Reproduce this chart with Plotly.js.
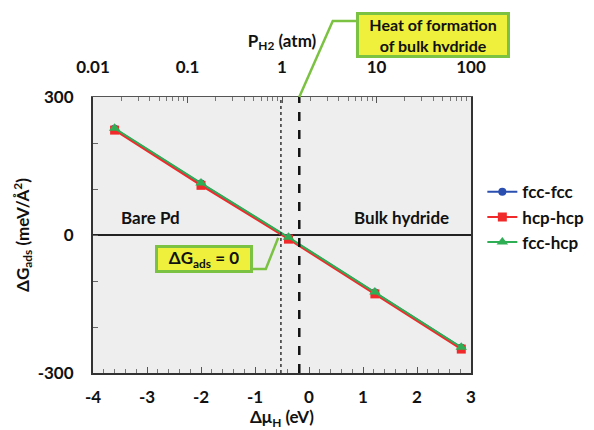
<!DOCTYPE html>
<html>
<head>
<meta charset="utf-8">
<script src="https://cdn.plot.ly/plotly-3.0.1.min.js"></script>
<style>html,body{margin:0;padding:0;background:#fff;} #chart{width:594px;height:430px;}</style>
</head>
<body>
<div id="chart"></div>
<script>
// ---- data ----
const seriesNames = ["fcc-fcc", "hcp-hcp", "fcc-hcp"];
const dMuH = [-3.6, -2.0, -0.38, 1.22, 2.82];
const fccFcc = [231, 112, -6, -125, -245];
const hcpHcp = [228, 108, -9, -128, -248];
const fccHcp = [232, 113, -5, -124, -244];
const xTickVals = [-4, -3, -2, -1, 0, 1, 2, 3];
const xTickText = ["-4", "-3", "-2", "-1", "0", "1", "2", "3"];
const yTickVals = [-300, -200, -100, 0, 100, 200, 300];
const yTickText = ["-300", "", "", "0", "", "", "300"];
const pTickVals = [0.01, 0.1, 1, 10, 100];
const pTickText = ["0.01", "0.1", "1", "10", "100"];
const heatFormationX = -0.18;   // dashed line
const zeroCrossX = -0.52;       // dotted line (ΔG_ads = 0)

// minor tick positions of the log pressure axis (2..9 in each decade)
const pMinorTicks = [];
pTickVals.slice(0, -1).forEach(d => { for (let k = 2; k <= 9; k++) pMinorTicks.push(d * k); });

const FONT = "Lato, 'Open Sans', sans-serif";
const colors = ["#2a4fb0", "#f02a2a", "#2fae55"];
const symbols = ["circle", "square", "triangle-up"];
const sizes = [8, 9, 10];
const ys = [fccFcc, hcpHcp, fccHcp];

const traces = seriesNames.map((n, i) => ({
  type: "scatter", mode: "lines+markers", name: n,
  x: dMuH, y: ys[i],
  line: {color: colors[i], width: 2},
  marker: {color: colors[i], symbol: symbols[i], size: sizes[i]},
  xaxis: "x", yaxis: "y"
}));
// empty trace so that the top pressure axis is drawn
traces.push({
  type: "scatter", mode: "markers", x: pTickVals, y: pTickVals.map(() => null),
  xaxis: "x2", yaxis: "y", showlegend: false, hoverinfo: "skip",
  marker: {opacity: 0}
});

const tickFont = {family: FONT, size: 17, color: "#111", weight: "bold"};
const titleFont = {family: FONT, size: 17, color: "#111", weight: "bold"};

const layout = {
  width: 594, height: 430,
  margin: {l: 93, r: 123, t: 97, b: 57, autoexpand: false},
  paper_bgcolor: "#fff",
  plot_bgcolor: "#eeeeee",
  font: {family: FONT, color: "#111"},
  showlegend: true,
  legend: {
    x: 1.03, xanchor: "left", y: 0.72, yanchor: "top",
    font: {family: FONT, size: 17, color: "#111", weight: "bold"},
    itemwidth: 30, tracegroupgap: 0, bgcolor: "rgba(0,0,0,0)"
  },
  xaxis: {
    range: [-4, 3], tickmode: "array", tickvals: xTickVals, ticktext: xTickText,
    ticks: "inside", ticklen: 6, tickcolor: "#555", tickwidth: 1,
    minor: {dtick: 0.2, ticks: "inside", ticklen: 4, tickcolor: "#777"},
    showgrid: false, zeroline: false,
    showline: true, linecolor: "#333", linewidth: 2, mirror: false,
    tickfont: tickFont, ticklabelstandoff: 8
  },
  xaxis2: {
    type: "log", overlaying: "x", side: "top", anchor: "y",
    range: [-2, 2], tickmode: "array", tickvals: pTickVals, ticktext: pTickText,
    ticks: "inside", ticklen: 6, tickcolor: "#555",
    minor: {tickmode: "array", tickvals: pMinorTicks, ticks: "inside", ticklen: 4, tickcolor: "#777"},
    showgrid: false, zeroline: false,
    showline: true, linecolor: "#555", linewidth: 1.5,
    tickfont: tickFont, ticklabelstandoff: 16,
    title: {text: "P<sub>H2</sub> (atm)", font: titleFont, standoff: 4}
  },
  yaxis: {
    range: [-300, 300], tickmode: "array", tickvals: yTickVals, ticktext: yTickText,
    ticks: "inside", ticklen: 5, tickcolor: "#666",
    showgrid: false, zeroline: true, zerolinecolor: "#222", zerolinewidth: 1.2,
    showline: true, linecolor: "#333", linewidth: 2, mirror: true,
    tickfont: tickFont, ticklabelstandoff: 14,
    title: {text: "ΔG<sub>ads</sub> (meV/Å<sup>2</sup>)", font: titleFont, standoff: 4}
  },
  shapes: [
    {type: "line", xref: "x", yref: "paper", x0: heatFormationX, x1: heatFormationX, y0: 0, y1: 1,
     line: {color: "#111", width: 2.5, dash: "dash"}},
    {type: "line", xref: "x", yref: "paper", x0: zeroCrossX, x1: zeroCrossX, y0: 0, y1: 1,
     line: {color: "#333", width: 1.5, dash: "dot"}},
    {type: "path", xref: "x", yref: "paper",
     path: `M 0.87 1.275 L 0.44 1.275 L ${heatFormationX} 1.0`,
     line: {color: "#7cc242", width: 2.5}},
    {type: "path", xref: "x", yref: "y",
     path: `M -1.04 -74 L -0.80 -74 L ${zeroCrossX - 0.05} -6`,
     line: {color: "#7cc242", width: 2.5}}
  ],
  annotations: [
    // bottom axis title
    {xref: "x", yref: "paper", x: -0.5, y: -0.163, text: "Δμ<sub>H</sub> (eV)", showarrow: false,
     xanchor: "center", yanchor: "middle", font: titleFont},
    {xref: "x", yref: "y", x: -2.94, y: 37, text: "Bare Pd", showarrow: false,
     xanchor: "center", yanchor: "middle",
     font: {family: FONT, size: 17, color: "#111", weight: "bold"}},
    {xref: "x", yref: "y", x: 1.72, y: 39, text: "Bulk hydride", showarrow: false,
     xanchor: "center", yanchor: "middle",
     font: {family: FONT, size: 17, color: "#111", weight: "bold"}},
    {xref: "x", yref: "y", x: -1.94, y: -53, text: "ΔG<sub>ads</sub> = 0", showarrow: false,
     xanchor: "center", yanchor: "middle",
     bgcolor: "#eef03c", bordercolor: "#7cc242", borderwidth: 3, borderpad: 2,
     width: 88, height: 18,
     font: {family: FONT, size: 17, color: "#111", weight: "bold"}},
    {xref: "paper", yref: "paper", x: 0.899, y: 1.2246, text: "Heat of formation<br>of bulk hydride", showarrow: false,
     xanchor: "center", yanchor: "middle",
     bgcolor: "#eef03c", bordercolor: "#7cc242", borderwidth: 3, borderpad: 3,
     width: 142, height: 34,
     font: {family: FONT, size: 16, color: "#111", weight: "bold"}}
  ]
};

Plotly.newPlot("chart", traces, layout, {staticPlot: true, displayModeBar: false});
</script>
</body>
</html>
